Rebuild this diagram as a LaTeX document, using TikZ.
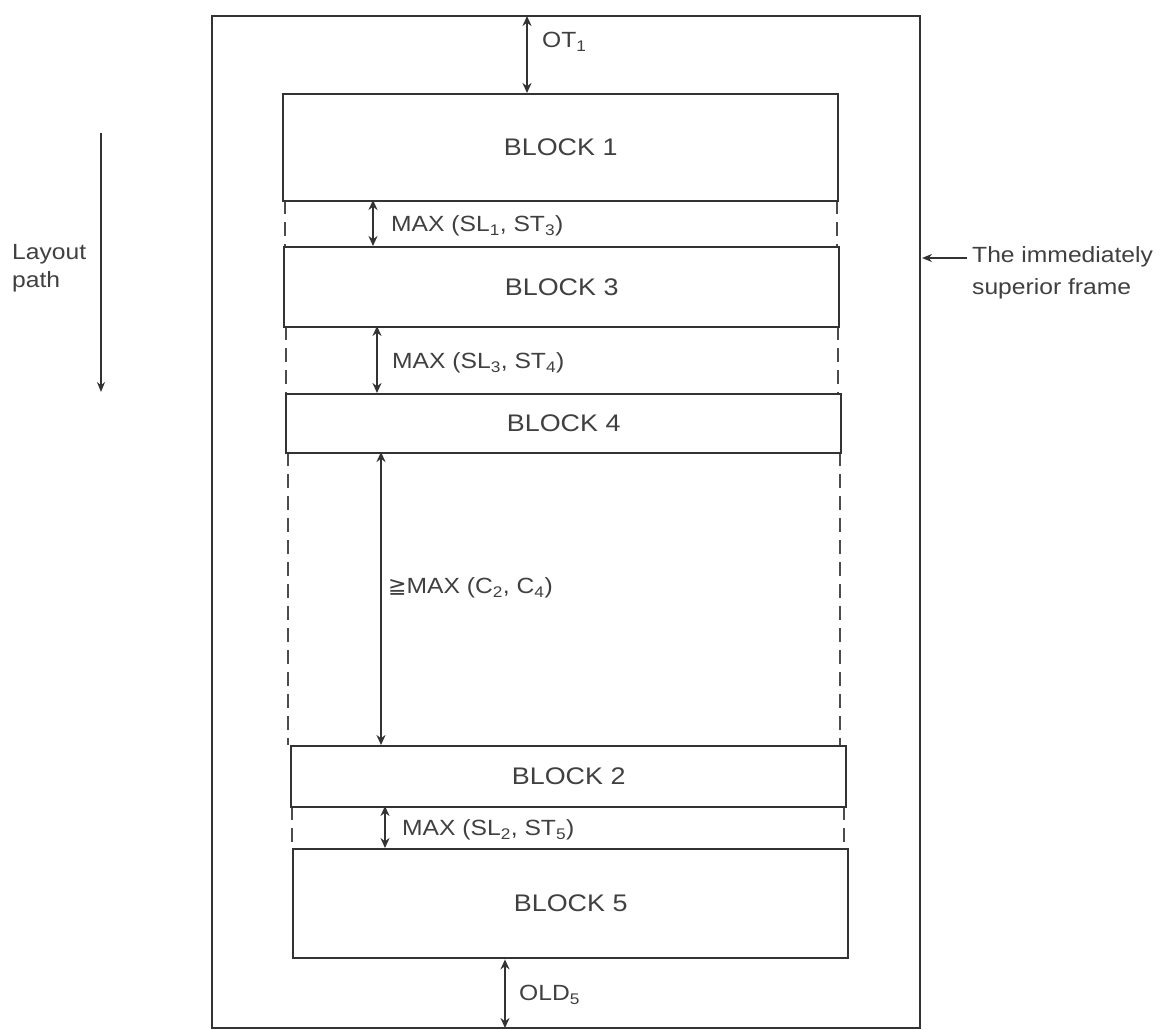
\documentclass[tikz,border=0pt]{standalone}
\usepackage{fontspec}
\setmainfont{Liberation Sans}[FakeStretch=1.12]
\newfontfamily\symfont{DejaVu Sans}
\usetikzlibrary{arrows.meta}
\begin{document}
\begin{tikzpicture}[x=1pt,y=-1pt,
  frame/.style={draw=black!80,line width=2.6pt},
  blockbox/.style={draw=black!80,line width=2.4pt,fill=white,minimum width=555pt,anchor=north west,inner sep=0pt},
  gapside/.style={draw=black!70,line width=2pt,dash pattern=on 14pt off 8pt},
  dim/.style={draw=black!80,line width=1.8pt,{Stealth[length=10pt,width=9pt]}-{Stealth[length=10pt,width=9pt]}},
  lbl/.style={font=\fontsize{22}{28}\selectfont,text=black!75,anchor=west,inner sep=0pt},
  blbl/.style={font=\fontsize{24}{26}\selectfont,text=black!75}]
\useasboundingbox (0,0) rectangle (1165,1030);
\fill[white] (0,0) rectangle (1165,1030);
% outer frame
\draw[frame] (212,16) rectangle (920,1028);
\coordinate (ftop) at (527,16);
\coordinate (fbot) at (505,1028);
% gap dashed sides
\draw[gapside] (285,200) -- (285,246) (837,200) -- (837,246);
\draw[gapside] (286,326) -- (286,393) (838,326) -- (838,393);
\draw[gapside] (288,452) -- (288,745) (840,452) -- (840,745);
\draw[gapside] (292,806) -- (292,848) (844,806) -- (844,848);
% blocks
\node[blockbox,minimum height=107pt] (b1) at (282,93) {};
\node[blbl] at (b1.center) {BLOCK 1};
\node[blockbox,minimum height=80pt] (b3) at (283,246) {};
\node[blbl] at (b3.center) {BLOCK 3};
\node[blockbox,minimum height=59pt] (b4) at (285,393) {};
\node[blbl] at (b4.center) {BLOCK 4};
\node[blockbox,minimum height=61pt] (b2) at (290,745) {};
\node[blbl] at (b2.center) {BLOCK 2};
\node[blockbox,minimum height=109pt] (b5) at (292,848) {};
\node[blbl] at (b5.center) {BLOCK 5};
% dimension arrows
\draw[dim] (ftop) -- (ftop |- b1.north);
\node[lbl] (ot) at (542,42) {OT\textsubscript{1}};
\draw[dim] (373,200) -- (373,246);
\node[lbl] (g1) at (391,226) {MAX (SL\textsubscript{1}, ST\textsubscript{3})};
\draw[dim] (377,326) -- (377,393);
\node[lbl] (g2) at (392,363) {MAX (SL\textsubscript{3}, ST\textsubscript{4})};
\draw[dim] (381,452) -- (381,745);
\node[lbl] (g3) at (388,588) {{\symfont ≧}MAX (C\textsubscript{2}, C\textsubscript{4})};
\draw[dim] (385,806) -- (385,848);
\node[lbl] (g4) at (402,830) {MAX (SL\textsubscript{2}, ST\textsubscript{5})};
\draw[dim] (fbot |- b5.south) -- (fbot);
\node[lbl] (old) at (519,995) {OLD\textsubscript{5}};
% layout path
\node[lbl,align=left,anchor=north west] (lp) at (12,244) {Layout\\path};
\coordinate (lpa) at (101,133);
\coordinate (lpb) at (101,392);
\draw[draw=black!80,line width=1.6pt,-{Stealth[length=10pt,width=8pt]}] (lpa) -- (lpb);
% superior frame
\node[lbl,align=left,anchor=north west,font=\fontsize{22}{32}\selectfont] (sf) at (972,246) {The immediately\\superior frame};
\coordinate (sfa) at (967,258);
\coordinate (sfb) at (922,258);
\draw[draw=black!80,line width=1.6pt,-{Stealth[length=10pt,width=8pt]}] (sfa) -- (sfb);
\end{tikzpicture}
\end{document}
